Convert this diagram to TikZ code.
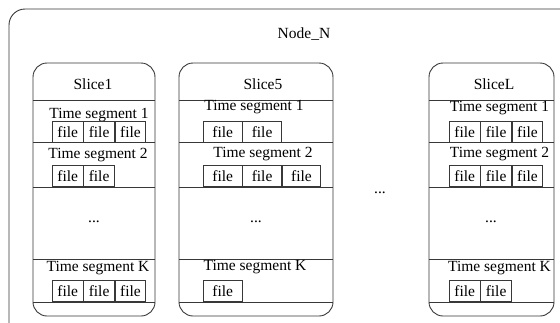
\documentclass[tikz,border=0pt]{standalone}
\usepackage{fontspec}
\setmainfont{Liberation Serif}
\begin{document}
\begin{tikzpicture}[x=1pt,y=-1pt,
  ln/.style={draw=black!78,line width=0.9pt},
  txt/.style={inner sep=0pt,font=\fontsize{15.5}{18}\selectfont,text=black},
  slicebox/.style={ln,rounded corners=14pt},
  fileA/.style={ln,txt,minimum width=30.5pt,minimum height=21pt,anchor=north west},
  fileB/.style={ln,txt,minimum width=38.5pt,minimum height=21pt,anchor=north west}]
\useasboundingbox (0,0) rectangle (560,322);
\clip (0,0) rectangle (560,322);
\fill[white] (0,0) rectangle (560,322);
% outer node box
\draw[ln,rounded corners=16pt] (9,9) rectangle (590,345);
\node[txt] (nodeN) at (304,34) {Node\_N};
% slice boxes
\draw[slicebox] (33,63) rectangle (155,316);
\draw[slicebox] (179,63) rectangle (333,316);
\draw[slicebox] (429,63) rectangle (554,316);
\coordinate (s1l) at (33,0); \coordinate (s1r) at (155,0);
\coordinate (s5l) at (179,0); \coordinate (s5r) at (333,0);
\coordinate (sLl) at (429,0); \coordinate (sLr) at (554,0);
\foreach \yy in {100,142,187,259,302}{
  \draw[ln] (s1l |- 0,\yy) -- (s1r |- 0,\yy);
  \draw[ln] (s5l |- 0,\yy) -- (s5r |- 0,\yy);
  \draw[ln] (sLl |- 0,\yy) -- (sLr |- 0,\yy);
}
% titles
\node[txt] (t1) at (93,84) {Slice1};
\node[txt] (t5) at (263,84) {Slice5};
\node[txt] (tL) at (494,84) {SliceL};
% slice 1
\node[txt] (a1) at (99,115) {Time segment 1};
\node[fileA] (a11) at (52,121) {file};
\node[fileA] (a12) at (a11.north east) {file};
\node[fileA] (a13) at (a12.north east) {file};
\node[txt] (a2) at (98,155) {Time segment 2};
\node[fileA] (a21) at (52,165) {file};
\node[fileA] (a22) at (a21.north east) {file};
\node[txt] (ad) at (94,222) {...};
\node[txt] (aK) at (98,268) {Time segment K};
\node[fileA] (aK1) at (52,280) {file};
\node[fileA] (aK2) at (aK1.north east) {file};
\node[fileA] (aK3) at (aK2.north east) {file};
% slice 5
\node[txt] (b1) at (254,107) {Time segment 1};
\node[fileB] (b11) at (203,121) {file};
\node[fileB] (b12) at (b11.north east) {file};
\node[txt] (b2) at (263,154) {Time segment 2};
\node[fileB] (b21) at (203,165) {file};
\node[fileB] (b22) at (b21.north east) {file};
\node[fileB] (b23) at (b22.north east) {file};
\node[txt] (bd) at (256,222) {...};
\node[txt] (bK) at (255,267) {Time segment K};
\node[fileB] (bK1) at (203,280) {file};
% slice L
\node[txt] (c1) at (499.5,108) {Time segment 1};
\node[fileA] (c11) at (449,121) {file};
\node[fileA] (c12) at (c11.north east) {file};
\node[fileA] (c13) at (c12.north east) {file};
\node[txt] (c2) at (499.5,154) {Time segment 2};
\node[fileA] (c21) at (449,165) {file};
\node[fileA] (c22) at (c21.north east) {file};
\node[fileA] (c23) at (c22.north east) {file};
\node[txt] (cd) at (491,222) {...};
\node[txt] (cK) at (499.5,268) {Time segment K};
\node[fileA] (cK1) at (449,280) {file};
\node[fileA] (cK2) at (cK1.north east) {file};
% between slices
\node[txt] (mid) at (380,193) {...};
\end{tikzpicture}
\end{document}
